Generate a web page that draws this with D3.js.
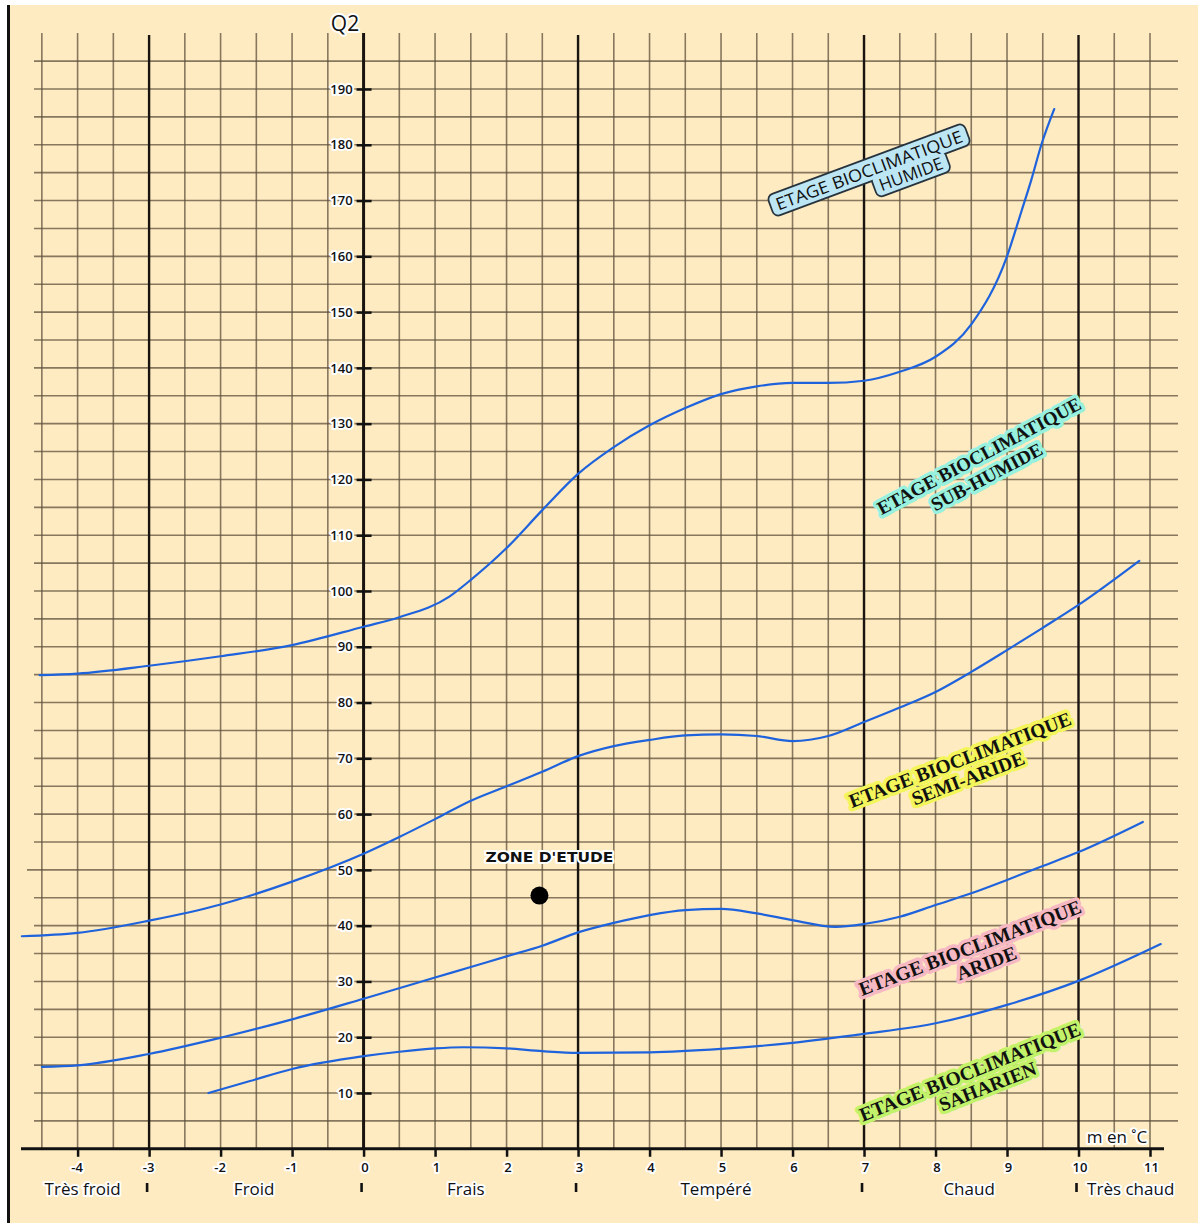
<!DOCTYPE html>
<html>
<head>
<meta charset="utf-8">
<script src="https://cdn.jsdelivr.net/npm/d3@7"></script>
<style>
  html, body { margin: 0; padding: 0; background: #ffffff; }
  svg { display: block; }
</style>
</head>
<body>
<svg id="chart" width="1198" height="1223"></svg>
<script>
// ---- Emberger climagram data ----
// x: m (mean minimum of the coldest month, °C); y: Q2 (pluviothermic quotient)
const xTickValues = [-4, -3, -2, -1, 0, 1, 2, 3, 4, 5, 6, 7, 8, 9, 10, 11];
const yTickValues = [10, 20, 30, 40, 50, 60, 70, 80, 90, 100, 110, 120, 130, 140, 150, 160, 170, 180, 190];
const winterBounds = [-3, 0, 3, 7, 10];
const winterNames = ["Très froid", "Froid", "Frais", "Tempéré", "Chaud", "Très chaud"];
const winterNameAt = [-3.93, -1.53, 1.43, 4.93, 8.47, 10.73];

// limit between humid and sub-humid stages
const limitHumid = [
  [-4.53, 84.9], [-4, 85.2], [-3, 86.6], [-2, 88.3], [-1, 90.3], [0, 93.6], [0.5, 95.3],
  [1.2, 99.0], [1.5, 102.0], [2, 107.7], [2.5, 114.5], [3, 121.0], [3.5, 125.8], [4, 129.7],
  [4.5, 132.8], [5, 135.3], [5.5, 136.7], [6, 137.3], [6.5, 137.3], [7, 137.7], [7.5, 139.3],
  [8, 142.0], [8.5, 147.8], [9, 160.0], [9.2, 168.0], [9.34, 173.7], [9.48, 180.0], [9.66, 186.4]
];
// limit between sub-humid and semi-arid stages
const limitSubHumid = [
  [-4.78, 38.1], [-4, 38.7], [-3, 40.9], [-2, 43.8], [-1, 47.9], [0, 52.9], [0.5, 55.9],
  [1, 59.1], [1.5, 62.4], [2, 65.0], [2.5, 67.6], [3, 70.4], [3.5, 72.2], [4, 73.3],
  [4.5, 74.1], [5, 74.3], [5.5, 74.0], [6, 73.1], [6.5, 74.0], [7, 76.5], [7.5, 79.1],
  [8, 81.9], [8.5, 85.5], [9, 89.4], [9.5, 93.4], [10, 97.5], [10.85, 105.4]
];
// limit between semi-arid and arid stages
const limitSemiArid = [
  [-4.5, 14.7], [-4, 14.95], [-3, 17.0], [-2, 19.9], [-1, 23.2], [0, 26.9], [1, 30.7],
  [1.5, 32.6], [2, 34.5], [2.5, 36.4], [3, 38.8], [3.5, 40.5], [4, 41.9], [4.5, 42.8],
  [5, 43.0], [5.5, 42.2], [6, 41.0], [6.6, 39.8], [7, 40.3], [7.5, 41.6], [8, 43.7],
  [8.5, 45.8], [9, 48.2], [9.5, 50.7], [10, 53.2], [10.9, 58.6]
];
// limit between arid and saharan stages
const limitArid = [
  [-2.17, 10.0], [-1.6, 12.1], [-1, 14.3], [0, 16.6], [0.5, 17.4], [1, 18.0], [1.4, 18.2],
  [2, 18.0], [2.5, 17.5], [3, 17.2], [4, 17.3], [5, 17.9], [6, 19.0], [7, 20.6], [8, 22.5],
  [9, 25.8], [10, 30.1], [11.15, 36.7]
];
const studyZone = [2.46, 45.4];
const studyZoneName = "ZONE D'ETUDE";

const stageLines1 = ["ETAGE BIOCLIMATIQUE", "ETAGE BIOCLIMATIQUE", "ETAGE BIOCLIMATIQUE", "ETAGE BIOCLIMATIQUE", "ETAGE BIOCLIMATIQUE"];
const stageLines2 = ["HUMIDE", "SUB-HUMIDE", "SEMI-ARIDE", "ARIDE", "SAHARIEN"];

// ---- layout ----
const svg = d3.select("#chart");
const x = d3.scaleLinear().domain([-4, 11]).range([77.6, 1150]);
const y = d3.scaleLinear().domain([10, 190]).range([1093, 89]);
const cream = "#ffebc2";
const gridColor = "#5e503c";
const curveColor = "#1f63dc";
const sans = "'Open Sans', 'DejaVu Sans', sans-serif";
const serif = "'Liberation Serif', 'DejaVu Serif', serif";

// paper
svg.append("rect").attr("x", 9).attr("y", 5).attr("width", 1189).attr("height", 1218).attr("fill", cream);
svg.append("line").attr("x1", 8.5).attr("x2", 8.5).attr("y1", 5).attr("y2", 1223)
  .attr("stroke", "#111").attr("stroke-width", 3);

const grid = svg.append("g");
// horizontal grid lines every 5 units of Q2
d3.range(5, 196, 5).forEach(v => {
  grid.append("line")
    .attr("x1", v === 50 ? 27 : 34).attr("x2", 1178)
    .attr("y1", y(v)).attr("y2", y(v))
    .attr("stroke", gridColor).attr("stroke-opacity", 0.75).attr("stroke-width", 1.6);
});
// vertical grid lines every 0.5 °C
d3.range(-4.5, 11.01, 0.5).forEach(m => {
  if (winterBounds.includes(m) || m === 0) return;
  grid.append("line")
    .attr("x1", x(m)).attr("x2", x(m)).attr("y1", 33).attr("y2", y(0))
    .attr("stroke", gridColor).attr("stroke-opacity", 0.75).attr("stroke-width", 1.6);
});
// thick boundaries between winter types
winterBounds.forEach(m => {
  grid.append("line")
    .attr("x1", x(m)).attr("x2", x(m)).attr("y1", m === 0 ? 33 : 35).attr("y2", y(0))
    .attr("stroke", "#1a1410").attr("stroke-width", m === 0 ? 3 : 2.4);
});

// x axis
const axisY = y(0);
svg.append("line").attr("x1", 21).attr("x2", 1164).attr("y1", axisY).attr("y2", axisY)
  .attr("stroke", "#111").attr("stroke-width", 3);
const xAxis = d3.axisBottom(x).tickValues(xTickValues).tickSize(8).tickPadding(6)
  .tickFormat(d => d);
const gx = svg.append("g").attr("transform", `translate(0,${axisY})`).call(xAxis);
gx.select(".domain").remove();
gx.selectAll(".tick line").attr("stroke", "#111").attr("stroke-width", 2.5);
gx.selectAll(".tick text")
  .attr("dx", d => d < 0 ? -1 : 1)
  .attr("y", 18).attr("dy", 0)
  .attr("dominant-baseline", "central")
  .style("font-family", sans).style("font-size", "13px").style("font-weight", 600)
  .attr("fill", "#111").attr("stroke", "#fff").attr("stroke-width", 4)
  .attr("stroke-linejoin", "round").attr("paint-order", "stroke");

// y axis
const gy = svg.append("g").attr("transform", `translate(${x(0)},0)`)
  .call(d3.axisLeft(y).tickValues(yTickValues).tickSize(0).tickPadding(11).tickFormat(d => d));
gy.select(".domain").remove();
gy.selectAll(".tick text")
  .style("font-family", sans).style("font-size", "13px").style("font-weight", 600)
  .attr("fill", "#111").attr("stroke", "#fff").attr("stroke-width", 4)
  .attr("stroke-linejoin", "round").attr("paint-order", "stroke");
gy.selectAll(".tick").append("line")
  .attr("x1", -7).attr("x2", 8).attr("stroke", "#111").attr("stroke-width", 2.5);

// winter type names and separators
const halo = sel => sel.attr("stroke", "#fff").attr("stroke-width", 4)
  .attr("stroke-linejoin", "round").attr("paint-order", "stroke");
winterNames.forEach((name, i) => {
  svg.append("text").attr("x", x(winterNameAt[i])).attr("y", 1188)
    .attr("text-anchor", "middle").attr("dominant-baseline", "central")
    .style("font-family", sans).style("font-size", "17px").style("font-weight", 500)
    .attr("fill", "#111").text(name).call(halo);
});
winterBounds.forEach(m => {
  svg.append("line").attr("x1", x(m) - 2).attr("x2", x(m) - 2).attr("y1", 1183).attr("y2", 1192)
    .attr("stroke", "#111").attr("stroke-width", 2.6);
});

// axis titles
svg.append("text").attr("x", 345).attr("y", 23).attr("text-anchor", "middle")
  .attr("dominant-baseline", "central")
  .style("font-family", sans).style("font-size", "21px").style("font-weight", 500)
  .attr("fill", "#111").text("Q2").call(halo);
svg.append("text").attr("x", 1117).attr("y", 1136).attr("text-anchor", "middle")
  .attr("dominant-baseline", "central")
  .style("font-family", sans).style("font-size", "17px").attr("fill", "#111")
  .text("m en ˚C").call(halo);

// stage limits
const line = d3.line().x(d => x(d[0])).y(d => y(d[1])).curve(d3.curveMonotoneX);
[limitHumid, limitSubHumid, limitSemiArid, limitArid].forEach(series => {
  svg.append("path").attr("d", line(series)).attr("fill", "none")
    .attr("stroke", curveColor).attr("stroke-width", 2.2).attr("stroke-linecap", "round");
});

// study zone
svg.append("circle").attr("cx", x(studyZone[0])).attr("cy", y(studyZone[1])).attr("r", 9)
  .attr("fill", "#000");
svg.append("text").attr("x", x(studyZone[0]) + 10).attr("y", y(studyZone[1]) - 39)
  .attr("text-anchor", "middle").attr("dominant-baseline", "central")
  .attr("textLength", 128).attr("lengthAdjust", "spacingAndGlyphs")
  .style("font-family", "'DejaVu Sans', sans-serif").style("font-size", "14px").style("font-weight", "bold")
  .attr("fill", "#111").text(studyZoneName).call(halo);

// stage names (rotated)
const stageStyle = [
  { cx: 869, cy: 170, angle: -20.4, dx: 38, dy: 18, len: 198, font: sans, size: 17, weight: 400, color: "#bde6f5", boxed: true },
  { cx: 979, cy: 456, angle: -28, dx: -3, dy: 22, len: 228, font: serif, size: 19, weight: 700, color: "#97f1de" },
  { cx: 960, cy: 760, angle: -20.8, dx: 1, dy: 20, len: 236, font: serif, size: 19.5, weight: 700, color: "#f3f55a" },
  { cx: 970, cy: 948, angle: -20.8, dx: 10, dy: 20, len: 236, font: serif, size: 19.5, weight: 700, color: "#f6b8c3" },
  { cx: 970, cy: 1072, angle: -21.7, dx: 11, dy: 20, len: 236, font: serif, size: 19.5, weight: 700, color: "#c2f26a" }
];
stageStyle.forEach((s, i) => {
  const g = svg.append("g").attr("transform", `translate(${s.cx},${s.cy}) rotate(${s.angle})`);
  const lines = [
    { t: stageLines1[i], dx: 0, dy: 0, len: s.len },
    { t: stageLines2[i], dx: s.dx, dy: s.dy, len: null }
  ];
  const texts = lines.map(l => {
    const t = g.append("text").attr("x", l.dx).attr("y", l.dy)
      .attr("text-anchor", "middle").attr("dominant-baseline", "central")
      .style("font-family", s.font).style("font-size", s.size + "px").style("font-weight", s.weight)
      .attr("fill", "#111").text(l.t);
    if (l.len) t.attr("textLength", l.len).attr("lengthAdjust", "spacingAndGlyphs");
    return t;
  });
  if (s.boxed) {
    const boxes = texts.map(t => t.node().getBBox());
    const under = g.insert("g", "text");
    boxes.forEach(b => under.append("rect")
      .attr("x", b.x - 5).attr("y", b.y + 1).attr("width", b.width + 10).attr("height", b.height - 2)
      .attr("rx", 5).attr("fill", "none").attr("stroke", "#27343d").attr("stroke-width", 3.5));
    boxes.forEach(b => under.append("rect")
      .attr("x", b.x - 5).attr("y", b.y + 1).attr("width", b.width + 10).attr("height", b.height - 2)
      .attr("rx", 5).attr("fill", s.color));
  } else {
    texts.forEach(t => t.attr("stroke", s.color).attr("stroke-width", 7)
      .attr("stroke-linejoin", "round").attr("paint-order", "stroke"));
  }
});
</script>
</body>
</html>
